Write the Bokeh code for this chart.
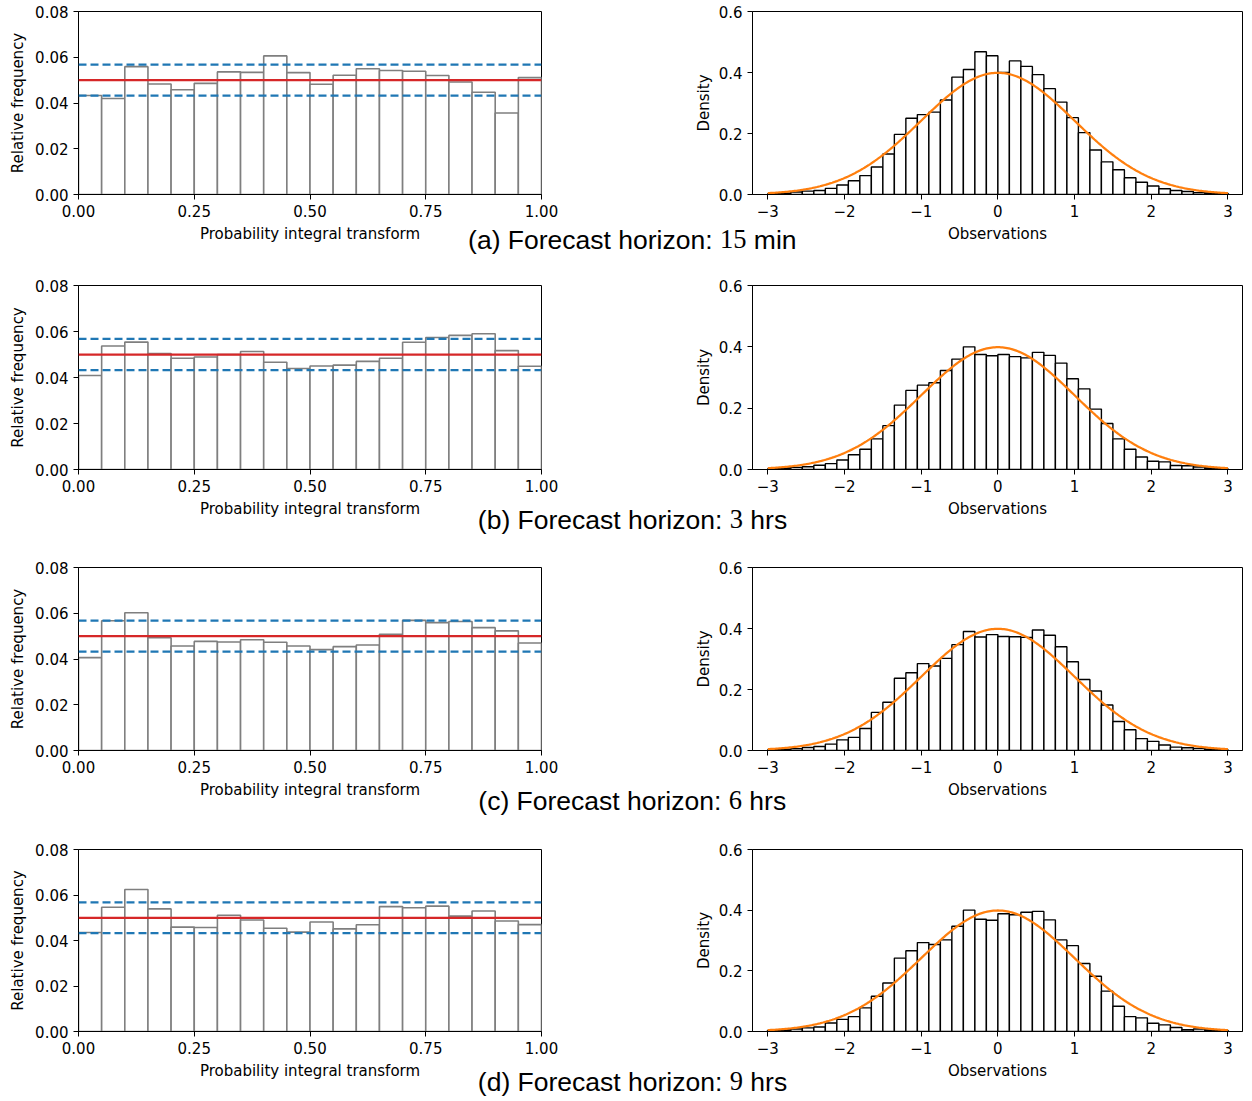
import numpy as np
from bokeh.plotting import figure
from bokeh.layouts import column, row
from bokeh.models import Range1d, FixedTicker, Span, Title, PrintfTickFormatter
from bokeh.embed import file_html
from bokeh.resources import INLINE

# ---------------- data ----------------
pit_edges = np.linspace(0.0, 1.0, 21)
obs_edges = np.linspace(-3.0, 3.0, 41)

pit_a = [0.0433, 0.0420, 0.0559, 0.0483, 0.0458, 0.0486, 0.0536, 0.0534, 0.0606, 0.0533,
         0.0482, 0.0521, 0.0550, 0.0542, 0.0539, 0.0520, 0.0492, 0.0447, 0.0356, 0.0511]
pit_b = [0.0409, 0.0537, 0.0554, 0.0504, 0.0484, 0.0489, 0.0500, 0.0513, 0.0466, 0.0439,
         0.0450, 0.0454, 0.0470, 0.0484, 0.0553, 0.0574, 0.0583, 0.0590, 0.0517, 0.0449]
pit_c = [0.0406, 0.0567, 0.0602, 0.0493, 0.0457, 0.0477, 0.0474, 0.0484, 0.0473, 0.0457,
         0.0441, 0.0454, 0.0461, 0.0508, 0.0569, 0.0559, 0.0564, 0.0537, 0.0523, 0.0470]
pit_d = [0.0435, 0.0546, 0.0624, 0.0539, 0.0459, 0.0457, 0.0511, 0.0490, 0.0454, 0.0437,
         0.0481, 0.0451, 0.0469, 0.0549, 0.0544, 0.0551, 0.0507, 0.0530, 0.0486, 0.0470]

dens_a = [0.003, 0.004, 0.008, 0.011, 0.013, 0.020, 0.031, 0.045, 0.062, 0.090,
          0.133, 0.197, 0.250, 0.262, 0.270, 0.310, 0.385, 0.410, 0.468, 0.455,
          0.400, 0.438, 0.420, 0.393, 0.347, 0.303, 0.252, 0.203, 0.146, 0.107,
          0.081, 0.055, 0.040, 0.028, 0.019, 0.013, 0.010, 0.006, 0.005, 0.004]
dens_b = [0.003, 0.005, 0.007, 0.009, 0.014, 0.019, 0.031, 0.048, 0.066, 0.100,
          0.143, 0.210, 0.258, 0.275, 0.283, 0.323, 0.360, 0.400, 0.375, 0.371,
          0.375, 0.368, 0.364, 0.382, 0.372, 0.347, 0.296, 0.263, 0.197, 0.150,
          0.100, 0.066, 0.041, 0.027, 0.025, 0.013, 0.012, 0.008, 0.005, 0.003]
dens_c = [0.003, 0.004, 0.006, 0.010, 0.013, 0.021, 0.035, 0.043, 0.072, 0.125,
          0.158, 0.237, 0.255, 0.285, 0.277, 0.302, 0.347, 0.390, 0.372, 0.380,
          0.374, 0.373, 0.371, 0.395, 0.378, 0.340, 0.291, 0.233, 0.195, 0.149,
          0.095, 0.068, 0.039, 0.030, 0.018, 0.011, 0.009, 0.007, 0.004, 0.003]
dens_d = [0.004, 0.005, 0.008, 0.012, 0.015, 0.028, 0.040, 0.049, 0.078, 0.116,
          0.160, 0.242, 0.266, 0.293, 0.287, 0.302, 0.347, 0.400, 0.370, 0.367,
          0.388, 0.385, 0.393, 0.396, 0.368, 0.302, 0.283, 0.224, 0.182, 0.133,
          0.083, 0.049, 0.045, 0.027, 0.022, 0.013, 0.006, 0.008, 0.005, 0.004]

pit_series = [pit_a, pit_b, pit_c, pit_d]
dens_series = [dens_a, dens_b, dens_c, dens_d]

uniform_level = 0.05
band_upper = 0.0568
band_lower = 0.0432
pdf_mu, pdf_sigma = 0.0, 1.0

pit_ticks = [0.0, 0.25, 0.5, 0.75, 1.0]
pit_yticks = [0.0, 0.02, 0.04, 0.06, 0.08]
obs_ticks = [-3, -2, -1, 0, 1, 2, 3]
obs_tick_labels = {-3: "\u22123", -2: "\u22122", -1: "\u22121", 0: "0", 1: "1", 2: "2", 3: "3"}
dens_yticks = [0.0, 0.2, 0.4, 0.6]

# caption pieces: (left part, right sans prefix, number, unit)
captions = [
    ("(a) Forecast horizo", "n:", "15", "min"),
    ("(b) Forecast horiz", "on:", "3", "hrs"),
    ("(c) Forecast horiz", "on:", "6", "hrs"),
    ("(d) Forecast horiz", "on:", "9", "hrs"),
]

# ---------------- layout (page px) ----------------
rows_geom = [
    dict(band=(0, 270), L=(11, 194), R=(11, 194), split=690, lift=10),
    dict(band=(270, 551), L=(282, 469), R=(285, 469), split=685, lift=0),
    dict(band=(551, 833), L=(563, 750), R=(567, 750), split=684, lift=0),
    dict(band=(833, 1101), L=(845, 1031), R=(849, 1032), split=685, lift=0),
]
TOTAL_W = 1252
L_FRAME = (78, 541)
R_FRAME = (752, 1242)
R_XR = (-3.2, 3.19)

FONT = "DejaVu Sans"
FS = "15px"
CAP_FONT = "Liberation Sans"
NUM_FONT = "Liberation Serif"
CAP_FS = 26.5
CAP_STANDOFF = -32
NUM_STANDOFF = -21
W_SANS = {"n": 0.556, "o": 0.556, ":": 0.278, " ": 0.278}


def style(p):
    p.xgrid.grid_line_color = None
    p.ygrid.grid_line_color = None
    p.outline_line_color = "black"
    p.outline_line_alpha = 1.0
    p.outline_line_width = 1
    p.background_fill_color = "white"
    p.border_fill_color = "white"
    for ax in (p.xaxis[0], p.yaxis[0]):
        ax.axis_line_color = "black"
        ax.axis_line_width = 1
        ax.major_tick_line_color = "black"
        ax.major_tick_line_width = 1
        ax.major_tick_out = 5
        ax.major_tick_in = 0
        ax.minor_tick_line_color = None
        ax.major_label_text_font = FONT
        ax.major_label_text_font_size = FS
        ax.major_label_text_color = "black"
        ax.axis_label_text_font = FONT
        ax.axis_label_text_font_size = FS
        ax.axis_label_text_font_style = "normal"
        ax.axis_label_text_color = "black"
    p.xaxis[0].major_label_standoff = 5
    p.xaxis[0].axis_label_standoff = 5
    p.yaxis[0].major_label_standoff = 5


def cap_title(text, font, align, offset, standoff):
    return Title(text=text, align=align, offset=offset, vertical_align="top",
                 standoff=standoff, text_font=font, text_font_size=f"{CAP_FS}px",
                 text_font_style="normal", text_color="black")


def pit_fig(vals, g):
    bt, bb = g["band"]
    ft, fb = g["L"]
    w = g["split"]
    p = figure(width=w, height=bb - bt,
               x_range=Range1d(0, 1), y_range=Range1d(0, 0.08),
               output_backend="svg", toolbar_location=None,
               min_border_left=L_FRAME[0],
               min_border_right=w - L_FRAME[1],
               min_border_top=ft - bt, min_border_bottom=bb - fb)
    p.quad(left=pit_edges[:-1], right=pit_edges[1:], bottom=0, top=vals,
           fill_color="white", line_color="#7f7f7f", line_width=1.6)
    p.add_layout(Span(location=uniform_level, dimension="width",
                      line_color="#d62728", line_width=2.25))
    for lv in (band_upper, band_lower):
        p.add_layout(Span(location=lv, dimension="width", line_color="#1f77b4",
                          line_width=2.25, line_dash="8 4"))
    style(p)
    p.xaxis[0].ticker = FixedTicker(ticks=pit_ticks)
    p.xaxis[0].formatter = PrintfTickFormatter(format="%.2f")
    p.yaxis[0].ticker = FixedTicker(ticks=pit_yticks)
    p.yaxis[0].formatter = PrintfTickFormatter(format="%.2f")
    p.xaxis[0].axis_label = "Probability integral transform"
    p.yaxis[0].axis_label = "Relative frequency"
    p.yaxis[0].axis_label_standoff = 5
    return p


def dens_fig(vals, g):
    bt, bb = g["band"]
    ft, fb = g["R"]
    split = g["split"]
    w = TOTAL_W - split
    p = figure(width=w, height=bb - bt,
               x_range=Range1d(*R_XR), y_range=Range1d(0, 0.6),
               output_backend="svg", toolbar_location=None,
               min_border_left=R_FRAME[0] - split,
               min_border_right=TOTAL_W - R_FRAME[1],
               min_border_top=ft - bt, min_border_bottom=bb - fb)
    p.quad(left=obs_edges[:-1], right=obs_edges[1:], bottom=0, top=vals,
           fill_color="white", line_color="black", line_width=1.4)
    xs = np.linspace(-3, 3, 301)
    ys = np.exp(-0.5 * ((xs - pdf_mu) / pdf_sigma) ** 2) / (pdf_sigma * np.sqrt(2 * np.pi))
    p.line(xs, ys, line_color="#ff7f0e", line_width=2.25)
    style(p)
    p.xaxis[0].ticker = FixedTicker(ticks=obs_ticks)
    p.xaxis[0].major_label_overrides = obs_tick_labels
    p.yaxis[0].ticker = FixedTicker(ticks=dens_yticks)
    p.yaxis[0].formatter = PrintfTickFormatter(format="%.1f")
    p.xaxis[0].axis_label = "Observations"
    p.yaxis[0].axis_label = "Density"
    p.yaxis[0].axis_label_standoff = 3
    return p


rows = []
for i, g in enumerate(rows_geom):
    lp = pit_fig(pit_series[i], g)
    rp = dens_fig(dens_series[i], g)
    split = g["split"]
    lift = g["lift"]
    left_txt, prefix, num, unit = captions[i]
    # left part ends exactly where the right figure begins
    lp.add_layout(cap_title(left_txt, CAP_FONT, "right", L_FRAME[1] - split,
                            CAP_STANDOFF - lift), "below")
    x_prefix = split
    x_num = x_prefix + (sum(W_SANS[c] for c in prefix) + W_SANS[" "]) * CAP_FS
    x_unit = x_num + (0.5 * len(num) + W_SANS[" "]) * CAP_FS
    rp.add_layout(cap_title(prefix, CAP_FONT, "left", x_prefix - R_FRAME[0],
                            CAP_STANDOFF - lift), "below")
    rp.add_layout(cap_title(unit, CAP_FONT, "left", x_unit - R_FRAME[0],
                            CAP_STANDOFF - lift), "below")
    rp.add_layout(cap_title(num, NUM_FONT, "left", x_num - R_FRAME[0],
                            NUM_STANDOFF - lift), "below")
    rows.append(row(lp, rp))

layout = column(*rows)
open("out.html", "w").write(file_html(layout, INLINE))
